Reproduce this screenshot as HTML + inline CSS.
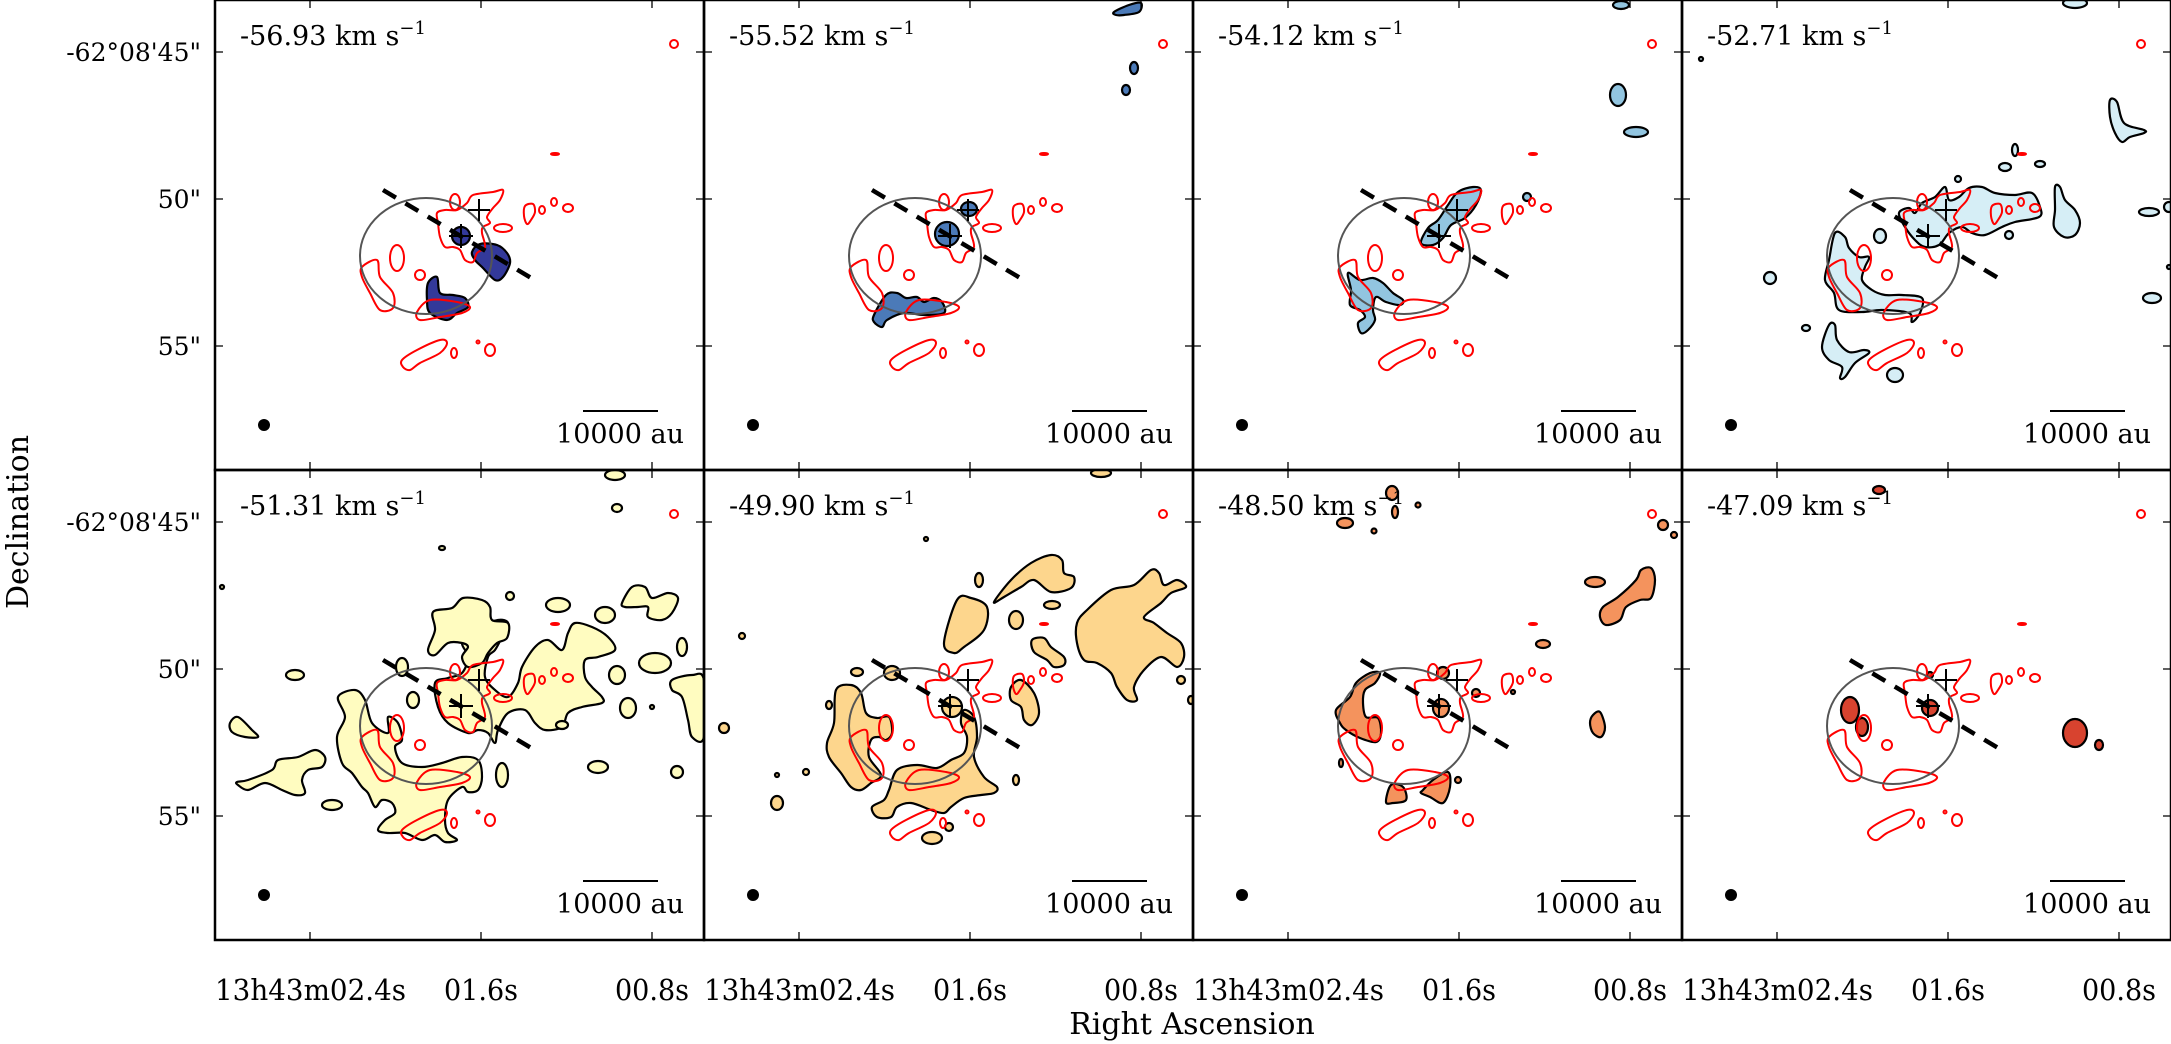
<!DOCTYPE html>
<html><head><meta charset="utf-8"><style>
html,body{margin:0;padding:0;background:#fff;}
svg{display:block;font-family:"DejaVu Serif","Liberation Serif",serif;}
</style></head><body>
<svg id="fig" width="2171" height="1044" viewBox="0 0 2171 1044" xmlns="http://www.w3.org/2000/svg"></svg>
<script>
// ---- data ----
const velocities = ["-56.93","-55.52","-54.12","-52.71","-51.31","-49.90","-48.50","-47.09"];
const fillColors = ["#33399a","#4b7ab8","#92c5e0","#d6eef6","#fffcc0","#fdd68d","#f4935d","#d8432f"];
const yTickLabels = ["-62°08'45\"","50\"","55\""];
const xTickLabels = ["13h43m02.4s","01.6s","00.8s"];
const xTickVals = [0,1,2];   // tick index (RA steps of 0.8 s)
const yTickVals = [0,1,2];   // tick index (Dec steps of 5")

// blob shapes per channel: [type, ...] poly = point list; ell = cx,cy,rx,ry
const blobs1 = [
 ["poly",[257,252,265,244,282,245,292,253,295,263,288,277,280,280,268,268,260,260]],
 ["poly",[213,283,222,277,225,293,238,295,250,298,253,307,242,313,232,320,215,313,212,300]],
 ["ell",[246,236,9,9]]
];
const blobs2 = [
 ["ell",[243,234,12,12]],["ell",[265,209,8,7]],
 ["poly",[170,315,182,295,193,293,202,298,213,297,220,302,230,298,238,302,240,313,220,315,200,313,183,320,178,327,170,322]],
 ["poly",[410,12,425,5,437,3,435,12,420,15,412,15]],["ell",[430,68,4,6]],["ell",[422,90,4,5]]
];
const blobs3 = [
 ["poly",[228,243,235,228,245,220,255,205,265,192,280,187,288,190,283,205,272,218,258,225,250,238,240,245]],
 ["poly",[155,273,167,280,180,278,190,283,200,293,210,300,207,305,193,302,183,297,180,310,182,320,175,330,168,333,165,323,172,317,167,310,157,305,158,290]],
 ["ell",[425,95,8,11]],["ell",[443,132,12,5]],["ell",[428,5,8,4]],["ell",[334,197,4,4]]
];
const blobs4 = [
 ["poly",[217,213,227,208,233,213,240,203,253,197,263,187,267,200,277,197,287,188,300,187,313,193,333,195,350,193,358,207,357,217,333,222,320,227,303,235,290,233,280,227,267,233,257,245,243,247,233,240,223,227]],
 ["poly",[153,233,163,237,167,248,177,257,187,257,183,267,180,280,190,290,203,295,220,295,240,298,238,313,230,322,227,313,200,310,180,312,157,310,152,293,143,280,147,260]],
 ["ell",[198,236,6,7]],["ell",[88,278,6,6]],
 ["poly",[140,347,147,325,153,325,155,340,167,352,182,350,187,353,173,363,163,377,158,378,160,367,147,360]],
 ["ell",[213,375,8,7]],["ell",[124,328,4,3]],
 ["poly",[373,187,378,187,383,200,393,210,398,223,393,235,382,237,372,227,373,210]],
 ["poly",[428,100,435,102,442,123,462,130,462,133,448,137,440,142,433,133,428,117]],
 ["ell",[467,212,10,4]],["ell",[470,298,9,5]],["ell",[487,207,5,5]],["ell",[323,167,6,4]],["ell",[333,150,3,6]],
 ["ell",[358,164,5,3]],["ell",[327,235,4,4]],["ell",[276,179,3,3]],["ell",[393,3,12,5]],["ell",[19,59,2,2]],["ell",[487,267,2,2]]
];
const blobs5 = [
 ["poly",[123,227,140,220,150,230,157,253,173,263,173,247,183,253,187,270,180,277,187,293,207,297,227,293,247,287,263,290,267,307,263,320,253,322,247,317,233,330,230,350,233,363,242,370,230,372,220,365,207,370,190,363,173,363,163,360,170,350,180,343,177,333,167,330,160,337,153,323,147,317,137,303,127,293,122,267,130,247]],
 ["poly",[220,213,233,208,247,203,253,187,247,173,257,165,267,157,283,150,293,153,287,167,280,180,273,187,270,207,280,220,293,227,303,213,307,197,320,177,333,170,347,180,353,163,360,153,377,157,393,167,400,180,383,187,370,190,370,207,377,217,387,227,387,233,367,237,353,243,347,257,330,260,320,253,310,240,293,243,283,260,280,273,273,263,263,260,253,263,233,253,223,237]],
 ["poly",[218,142,237,138,248,128,267,130,275,137,277,150,293,153,292,168,282,173,273,183,267,193,253,197,247,187,253,177,247,173,233,173,220,185,213,180,220,160]],
 ["poly",[407,133,417,117,430,117,437,128,453,123,463,128,457,143,447,150,433,147,433,137,423,137,410,137]],
 ["poly",[15,253,23,247,37,260,43,267,30,267,17,262]],
 ["poly",[22,312,33,310,57,300,63,290,83,287,100,280,110,287,107,297,93,300,87,310,90,323,80,325,67,320,50,313,33,320,23,315]],
 ["poly",[457,210,477,205,489,210,489,267,477,267,473,250,467,227,457,220]],
 ["ell",[390,145,10,8]],["ell",[343,135,12,7]],["ell",[440,193,16,10]],["ell",[402,205,8,9]],["ell",[413,238,8,10]],
 ["ell",[347,255,6,4]],["ell",[383,297,10,6]],["ell",[462,302,6,6]],["ell",[287,305,6,12]],["ell",[117,335,10,5]],
 ["ell",[80,205,9,5]],["ell",[187,197,6,9]],["ell",[467,177,5,9]],["ell",[295,126,4,4]],["ell",[400,5,10,5]],
 ["ell",[402,38,5,4]],["ell",[227,78,3,2]],["ell",[7,117,2,2]],["ell",[437,237,2,2]],["ell",[198,230,6,8]]
];
const blobs6 = [
 ["poly",[132,220,147,215,157,223,162,243,173,248,185,247,188,263,182,270,175,267,167,270,165,287,177,305,167,313,157,320,147,317,137,303,125,287,123,273,130,253]],
 ["poly",[185,320,193,300,213,295,233,298,247,290,260,283,263,267,257,253,260,240,270,247,273,267,270,287,280,307,293,317,290,323,277,325,260,328,247,337,240,343,227,340,207,333,193,337,187,347,173,347,168,337,180,330]],
 ["ell",[248,237,10,10]],
 ["poly",[240,173,253,130,267,128,283,137,280,160,260,177,250,183]],
 ["poly",[290,132,307,110,327,93,347,85,358,90,360,103,370,107,367,118,347,122,330,110,317,117,300,127]],
 ["poly",[373,153,383,140,407,120,430,115,447,100,455,103,460,115,473,110,482,117,467,123,457,133,440,147,450,153,463,163,477,173,480,187,473,197,457,187,440,200,430,217,433,230,423,230,413,217,407,203,393,193,380,190,373,173]],
 ["poly",[307,217,317,210,330,223,335,243,328,255,320,250,317,237,307,230]],
 ["poly",[328,170,340,168,347,177,360,187,360,195,350,197,343,190,330,182]],
 ["ell",[312,150,7,9]],["ell",[348,135,8,4]],["ell",[275,110,4,7]],["ell",[153,202,6,4]],["ell",[188,203,8,7]],
 ["ell",[38,166,3,3]],["ell",[20,258,5,5]],["ell",[73,333,6,7]],["ell",[102,302,3,3]],["ell",[73,305,2,2]],
 ["ell",[312,310,3,5]],["ell",[228,368,10,6]],["ell",[245,357,4,4]],["ell",[477,210,4,4]],["ell",[487,230,3,4]],
 ["ell",[125,235,3,4]],["ell",[222,69,2,2]],["ell",[397,3,10,4]]
];
const blobs7 = [
 ["poly",[143,240,157,227,163,213,177,203,187,203,182,213,172,220,170,233,173,247,185,248,188,263,183,272,167,268,153,260,147,253]],
 ["poly",[193,332,198,315,210,317,213,330,200,333]],
 ["poly",[230,320,240,310,255,302,257,317,250,333,237,327,228,323]],
 ["ell",[248,238,8,9]],
 ["poly",[410,137,425,127,443,110,448,100,458,98,462,110,458,128,447,130,433,137,427,150,413,155,407,147]],
 ["poly",[400,245,407,242,412,257,408,267,400,263,397,253]],
 ["ell",[402,112,10,5]],["ell",[350,174,7,4]],["ell",[470,55,5,5]],["ell",[481,65,3,3]],["ell",[152,53,8,5]],
 ["ell",[199,23,6,7]],["ell",[202,42,3,6]],["ell",[181,61,2.5,2.5]],["ell",[225,35,2.5,2.5]],["ell",[250,203,6,6]],
 ["ell",[283,223,4,4]],["ell",[265,310,3,3]],["ell",[320,222,2,2]],["ell",[148,293,2,4]]
];
const blobs8 = [
 ["ell",[168,240,9,13]],["ell",[180,257,6,9]],["ell",[393,263,12,14]],["ell",[417,275,4,5]],
 ["ell",[248,238,8,8]],["ell",[197,20,6,4]],["ell",[248,205,3,3]]
];
const channelBlobs = [blobs1,blobs2,blobs3,blobs4,blobs5,blobs6,blobs7,blobs8];

// continuum (red) contours, panel coordinates
const redContours = [
 [222,213,230,210,242,210,252,203,258,195,278,192,288,190,285,200,278,208,272,217,275,223,268,227,267,233,270,247,262,253,258,262,250,260,245,250,238,247,230,247,225,237,223,223],
 [147,267,162,260,165,277,178,293,178,308,165,310,155,293,147,277],
 [202,312,215,300,242,302,255,307,247,313,225,317,205,320],
 [187,360,202,350,225,340,232,343,225,353,205,363,195,370,188,367],
 [310,206,318,204,320,212,316,220,312,224,309,216]
];
const redEllipses = [[240,202,5,8],[288,228,9,4],[182,258,7,13],[205,275,5,5],[239,353,3,5],[275,350,5,6],[327,210,3,4],[339,202,3,4],[353,208,5,4],[459,44,4,4],[263,342,1.5,1.5],[340,154,4,1]];

// ---- layout ----
const PX=[215,704,1193,1682], PY=[0,470], PW=489, PH=470;
const xTick = i => 95 + i*171;
const yTick = i => 52 + i*147;
const NS="http://www.w3.org/2000/svg";
const svg=document.getElementById('fig');
function el(tag,attrs,parent){const e=document.createElementNS(NS,tag);for(const k in attrs)e.setAttribute(k,attrs[k]);(parent||svg).appendChild(e);return e;}
function smooth(pts){
 const n=pts.length/2;const P=[];for(let i=0;i<n;i++)P.push([pts[2*i],pts[2*i+1]]);
 let d="M"+P[0][0]+","+P[0][1];
 for(let i=0;i<n;i++){const p0=P[(i-1+n)%n],p1=P[i],p2=P[(i+1)%n],p3=P[(i+2)%n];
  const c1=[p1[0]+(p2[0]-p0[0])/6,p1[1]+(p2[1]-p0[1])/6],c2=[p2[0]-(p3[0]-p1[0])/6,p2[1]-(p3[1]-p1[1])/6];
  d+=" C"+c1[0].toFixed(1)+","+c1[1].toFixed(1)+" "+c2[0].toFixed(1)+","+c2[1].toFixed(1)+" "+p2[0]+","+p2[1];}
 return d+"Z";
}

for(let k=0;k<8;k++){
 const ox=PX[k%4], oy=PY[Math.floor(k/4)];
 const g=el('g',{transform:`translate(${ox},${oy})`});
 
 
 const clip=el('clipPath',{id:'c'+k},g);el('rect',{x:0,y:0,width:PW,height:PH},clip);
 const inner=el('g',{'clip-path':`url(#c${k})`},g);
 // emission blobs
 channelBlobs[k].forEach((b,j)=>{
  let e;
  if(b[0]==="poly") e=el('path',{d:smooth(b[1])},inner);
  else e=el('ellipse',{cx:b[1][0],cy:b[1][1],rx:b[1][2],ry:b[1][3]},inner);
  e.setAttribute('fill',fillColors[k]);e.setAttribute('stroke','#000');e.setAttribute('stroke-width','2.2');
  
  
 });
 // red continuum
 redContours.forEach(r=>{const e=el('path',{d:smooth(r),fill:'none',stroke:'#ff0000','stroke-width':2},inner);
  
  });
 redEllipses.forEach(r=>{const e=el('ellipse',{cx:r[0],cy:r[1],rx:r[2],ry:r[3],fill:'none',stroke:'#ff0000','stroke-width':2},inner);
  
  });
 // circle
 const c=el('ellipse',{cx:211,cy:256,rx:66,ry:58,fill:'none',stroke:'#555','stroke-width':2},inner);
 
 
 // dashed outflow axis
 const dl=el('line',{x1:168,y1:190,x2:323,y2:282,stroke:'#000','stroke-width':4.5,'stroke-dasharray':'15 11'},inner);
 
 
 // crosses
 [[246,236,12],[264,210,11]].forEach(p=>{
  const cr=el('path',{d:`M${p[0]-p[2]},${p[1]}H${p[0]+p[2]}M${p[0]},${p[1]-p[2]}V${p[1]+p[2]}`,stroke:'#000','stroke-width':2,fill:'none'},inner);
  
  
 });
 // beam
 const bm=el('circle',{cx:49,cy:425,r:6,fill:'#000'},inner);
 
 
 // scale bar
 const sb=el('line',{x1:368,y1:411,x2:443,y2:411,stroke:'#000','stroke-width':2},g);
 
 
 const st=el('text',{x:405,y:443,'font-size':27,'text-anchor':'middle'},g);st.textContent="10000 au";
 
 
 // channel label
 const lt=el('text',{x:25,y:45,'font-size':27},g);
 
 
 lt.appendChild(document.createTextNode(velocities[k]+" km s"));
 const sup=el('tspan',{dy:-11,'font-size':18},lt);sup.textContent="\u22121";
 // ticks
 let td="";
 xTickVals.forEach(i=>{const x=xTick(i);td+=`M${x},0V8M${x},${PH}V${PH-8}`;});
 yTickVals.forEach(i=>{const y=yTick(i);td+=`M0,${y}H8M${PW},${y}H${PW-8}`;});
 const tk=el('path',{d:td,stroke:'#000','stroke-width':1.3,fill:'none'},g);
 
 
 // frame
 const fr=el('rect',{x:0,y:0,width:PW,height:PH,fill:'none',stroke:'#000','stroke-width':2.5},g);
 
 
 // y tick labels on left column
 if(k%4===0){
  yTickVals.forEach(i=>{const t=el('text',{x:-14,y:yTick(i)+9,'font-size':25,'text-anchor':'end'},g);
   t.textContent=yTickLabels[i];
   
   });
 }
 // x tick labels on bottom row
 if(k>=4){
  xTickVals.forEach(i=>{const anchor=i===0?'start':'middle';const x=i===0?0:xTick(i);
   const t=el('text',{x:x,y:PH+60,'font-size':29,'text-anchor':anchor},g);
   if(i===0){t.setAttribute('textLength',191);t.setAttribute('lengthAdjust','spacingAndGlyphs');}
   else {t.setAttribute('textLength',74);t.setAttribute('lengthAdjust','spacingAndGlyphs');}
   t.textContent=xTickLabels[i];
   
   });
 }
}
const yl=el('text',{x:0,y:0,'font-size':30,'text-anchor':'middle',transform:'translate(28,522) rotate(-90)'});
yl.textContent="Declination";


const xl=el('text',{x:1192,y:1034,'font-size':30,'text-anchor':'middle'});
xl.textContent="Right Ascension";


</script>
</body></html>
